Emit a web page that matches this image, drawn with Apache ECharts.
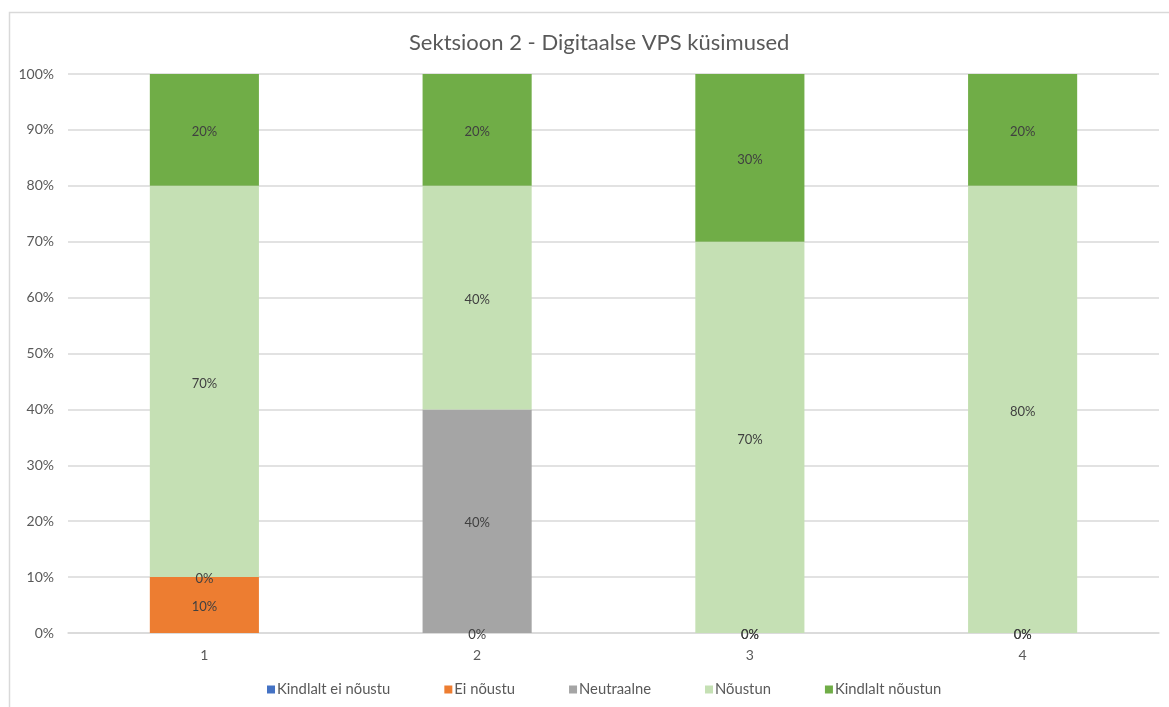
<!DOCTYPE html>
<html>
<head>
<meta charset="utf-8">
<script src="https://cdn.jsdelivr.net/npm/echarts@6/dist/echarts.min.js"></script>
<style>
html,body{margin:0;padding:0;background:#fff;}
#chart{width:1169px;height:707px;}
</style>
</head>
<body>
<div id="chart"></div>
<script>
const titleText = 'Sektsioon 2 - Digitaalse VPS küsimused';
const categories = ['1', '2', '3', '4'];
const seriesNames = ['Kindlalt ei nõustu', 'Ei nõustu', 'Neutraalne', 'Nõustun', 'Kindlalt nõustun'];
const kindlaltEiNoustu = [0, 0, 0, 0];
const eiNoustu = [10, 0, 0, 0];
const neutraalne = [0, 40, 0, 0];
const noustun = [70, 40, 70, 80];
const kindlaltNoustun = [20, 20, 30, 20];
const yTicks = [0, 10, 20, 30, 40, 50, 60, 70, 80, 90, 100];
const colors = ['#4472C4', '#ED7D31', '#A5A5A5', '#C5E0B4', '#70AD47'];

const font = 'Lato, "Open Sans", "DejaVu Sans", sans-serif';
const allData = [kindlaltEiNoustu, eiNoustu, neutraalne, noustun, kindlaltNoustun];

const chart = echarts.init(document.getElementById('chart'));
chart.setOption({
  animation: false,
  color: colors,
  textStyle: { fontFamily: font },
  graphic: [{
    type: 'rect', left: 7, top: 10,
    shape: { width: 1180, height: 720 },
    style: { fill: 'none', stroke: '#D9D9D9', lineWidth: 1.5 },
    silent: true
  }],
  title: {
    text: titleText, left: 404, top: 27,
    textStyle: { fontFamily: font, fontSize: 22, fontWeight: 'normal', color: '#595959' }
  },
  legend: {
    top: 677, left: 262,
    itemWidth: 8, itemHeight: 8, itemGap: 54,
    icon: 'rect',
    data: seriesNames,
    textStyle: { fontFamily: font, fontSize: 14.8, color: '#595959', padding: [0, 0, 0, -3] }
  },
  grid: { left: 68, right: 10, top: 74, bottom: 74, containLabel: false },
  xAxis: {
    type: 'category', data: categories,
    axisLine: { lineStyle: { color: '#D9D9D9', width: 1.5 } },
    axisTick: { show: false },
    axisLabel: { color: '#595959', fontSize: 14, fontFamily: font, margin: 15 }
  },
  yAxis: {
    type: 'value', min: yTicks[0], max: yTicks[yTicks.length - 1], interval: 10,
    axisLine: { show: false }, axisTick: { show: false },
    splitLine: { lineStyle: { color: '#D9D9D9', width: 1.5 } },
    axisLabel: { color: '#595959', fontSize: 14, fontFamily: font, margin: 14, formatter: v => v + '%' }
  },
  series: seriesNames.map((name, i) => ({
    name, type: 'bar', stack: 'total', barWidth: '40%',
    data: allData[i],
    label: {
      show: i !== 0, position: 'inside', offset: [0, 2],
      color: '#404040', fontSize: 13, fontFamily: font,
      formatter: p => p.value + '%'
    }
  }))
});
</script>
</body>
</html>
